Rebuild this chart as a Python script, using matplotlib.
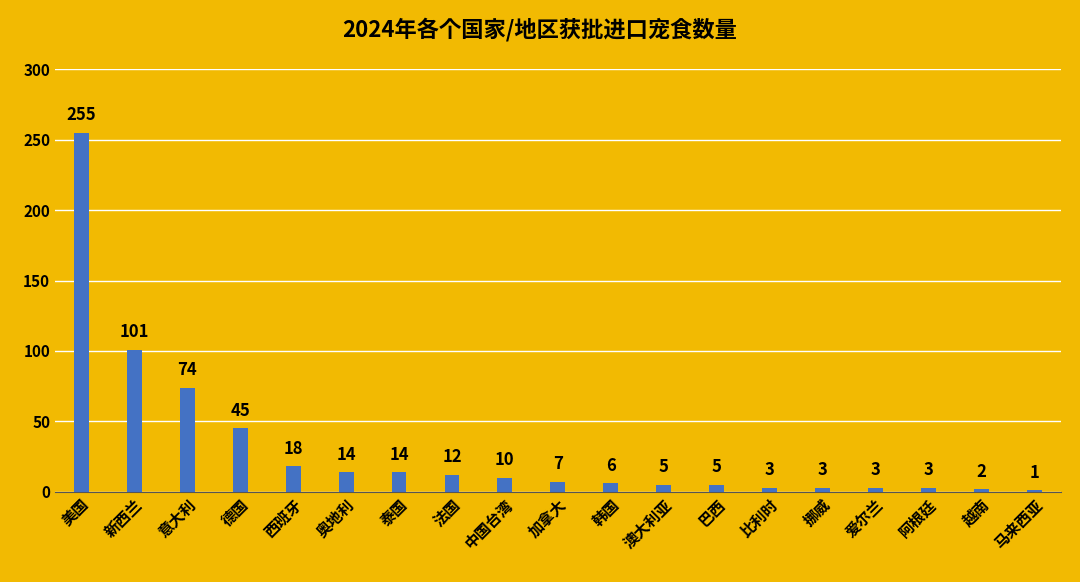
import matplotlib.pyplot as plt

plt.rcParams['font.family'] = ['Noto Sans CJK SC', 'Noto Sans CJK JP', 'Noto Sans CJK TC',
                               'Noto Sans CJK KR', 'DejaVu Sans']

countries = ['美国', '新西兰', '意大利', '德国', '西班牙', '奥地利', '泰国', '法国', '中国台湾',
             '加拿大', '韩国', '澳大利亚', '巴西', '比利时', '挪威', '爱尔兰', '阿根廷', '越南', '马来西亚']
counts = [255, 101, 74, 45, 18, 14, 14, 12, 10, 7, 6, 5, 5, 3, 3, 3, 3, 2, 1]
yticks = [0, 50, 100, 150, 200, 250, 300]

bg = '#F2BA02'
fig = plt.figure(figsize=(10.8, 5.82), dpi=100, facecolor=bg)
ax = fig.add_axes([0.051, 0.155, 0.931, 0.726], facecolor=bg)

x = range(len(countries))
ax.bar(x, counts, width=0.28, color='#4472C4', zorder=3)
for xi, v in zip(x, counts):
    ax.text(xi, v + 6, str(v), ha='center', va='bottom', fontsize=12, fontweight='bold')

ax.set_xlim(-0.5, len(countries) - 0.5)
ax.set_ylim(0, 300)
ax.set_yticks(yticks)
ax.set_yticklabels([str(t) for t in yticks], fontsize=11, fontweight='bold')
ax.set_xticks(list(x))
ax.set_xticklabels(countries, rotation=45, ha='right', rotation_mode='anchor',
                   fontsize=11, fontweight='bold')
ax.grid(axis='y', color='white', lw=1, zorder=0)
ax.tick_params(length=0)
for s in ['top', 'right', 'left']:
    ax.spines[s].set_visible(False)
ax.spines['bottom'].set_color('#555555')

fig.suptitle('2024年各个国家/地区获批进口宠食数量', y=0.97, fontsize=16, fontweight='bold')
fig.savefig('out.png', dpi=100, facecolor=bg)
